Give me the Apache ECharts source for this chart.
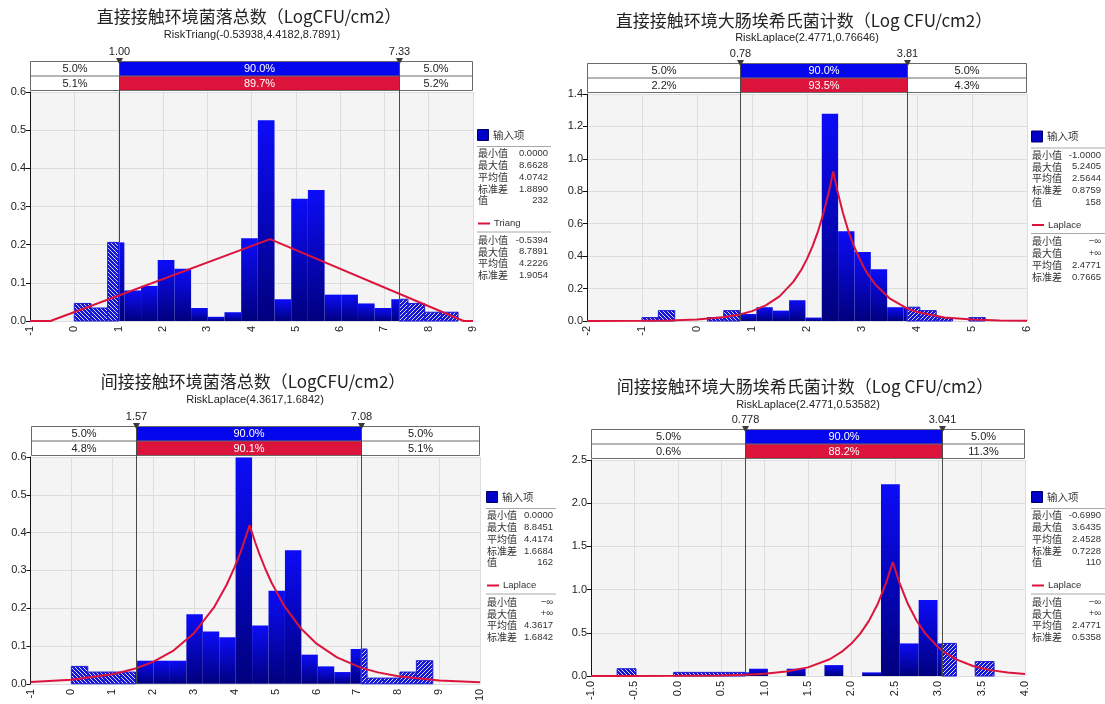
<!DOCTYPE html>
<html><head><meta charset="utf-8">
<script src="https://cdn.jsdelivr.net/npm/echarts@6.0.0/dist/echarts.min.js"></script>
<style>html,body{margin:0;padding:0;background:#fff}#main{width:1105px;height:704px}</style>
</head><body><div id="main"></div>
<script>
// ---------------- DATA ----------------
// Panel 1
const p1Title = '直接接触环境菌落总数（LogCFU/cm2）';
const p1Subtitle = 'RiskTriang(-0.53938,4.4182,8.7891)';
const p1Range = [0.0, 8.6628];
const p1Density = [0.046,0.034,0.206,0.080,0.092,0.160,0.137,0.034,0.011,0.023,0.217,0.526,0.057,0.320,0.343,0.069,0.069,0.046,0.034,0.057,0.046,0.023,0.023];
const p1Curve = [[-1,0],[-0.5394,0],[4.4182,0.2144],[8.7891,0],[9,0]];
const p1Markers = [1.00, 7.33];
const p1MarkerLabels = ['1.00', '7.33'];
const p1BandTop = ['5.0%', '90.0%', '5.0%'];
const p1BandBottom = ['5.1%', '89.7%', '5.2%'];
const p1XAxis = {min: -1, max: 9, interval: 1, decimals: 0};
const p1YAxis = {min: 0, max: 0.6, interval: 0.1, decimals: 1};
const p1InputStats = [['最小值','0.0000'],['最大值','8.6628'],['平均值','4.0742'],['标准差','1.8890'],['值','232']];
const p1FitName = 'Triang';
const p1FitStats = [['最小值','-0.5394'],['最大值','8.7891'],['平均值','4.2226'],['标准差','1.9054']];

// Panel 2
const p2Title = '直接接触环境大肠埃希氏菌计数（Log CFU/cm2）';
const p2Subtitle = 'RiskLaplace(2.4771,0.76646)';
const p2Range = [-1.0, 5.2405];
const p2Density = [0.021,0.064,0,0,0.021,0.064,0.043,0.085,0.064,0.128,0.021,1.278,0.554,0.426,0.319,0.085,0.085,0.064,0.021,0,0.021];
const p2Curve = [[-2,0.0002],[-1,0.0015],[-0.5,0.0038],[0,0.0096],[0.5,0.024],[0.78,0.040],[1.0,0.061],[1.25,0.096],[1.5,0.152],[1.75,0.241],[1.9,0.318],[2.0,0.383],[2.1,0.460],[2.2,0.553],[2.3,0.666],[2.4,0.800],[2.4771,0.923],[2.55,0.806],[2.65,0.671],[2.75,0.557],[2.85,0.464],[3.0,0.352],[3.1,0.292],[3.25,0.222],[3.5,0.140],[3.81,0.079],[4.0,0.056],[4.5,0.022],[5.0,0.0088],[5.5,0.0035],[6.0,0.0014]];
const p2Markers = [0.78, 3.81];
const p2MarkerLabels = ['0.78', '3.81'];
const p2BandTop = ['5.0%', '90.0%', '5.0%'];
const p2BandBottom = ['2.2%', '93.5%', '4.3%'];
const p2XAxis = {min: -2, max: 6, interval: 1, decimals: 0};
const p2YAxis = {min: 0, max: 1.4, interval: 0.2, decimals: 1};
const p2InputStats = [['最小值','-1.0000'],['最大值','5.2405'],['平均值','2.5644'],['标准差','0.8759'],['值','158']];
const p2FitName = 'Laplace';
const p2FitStats = [['最小值','−∞'],['最大值','+∞'],['平均值','2.4771'],['标准差','0.7665']];

// Panel 3
const p3Title = '间接接触环境菌落总数（LogCFU/cm2）';
const p3Subtitle = 'RiskLaplace(4.3617,1.6842)';
const p3Range = [0.0, 8.8451];
const p3Density = [0.046,0.031,0.031,0.031,0.061,0.061,0.061,0.184,0.138,0.123,0.599,0.154,0.246,0.353,0.077,0.046,0.031,0.092,0.015,0.015,0.031,0.061];
const p3Curve = [[-1,0.0047],[0,0.0108],[1,0.0249],[1.57,0.0403],[2,0.0578],[2.5,0.0879],[3,0.1338],[3.5,0.2036],[3.8,0.262],[4.0,0.310],[4.1,0.337],[4.2,0.3665],[4.3617,0.4198],[4.5,0.3738],[4.6,0.3437],[4.75,0.303],[4.9,0.2672],[5.2,0.2076],[5.6,0.1484],[6,0.1061],[6.5,0.0697],[7.08,0.0428],[7.5,0.0301],[8,0.0198],[9,0.0085],[10,0.0037]];
const p3Markers = [1.57, 7.08];
const p3MarkerLabels = ['1.57', '7.08'];
const p3BandTop = ['5.0%', '90.0%', '5.0%'];
const p3BandBottom = ['4.8%', '90.1%', '5.1%'];
const p3XAxis = {min: -1, max: 10, interval: 1, decimals: 0};
const p3YAxis = {min: 0, max: 0.6, interval: 0.1, decimals: 1};
const p3InputStats = [['最小值','0.0000'],['最大值','8.8451'],['平均值','4.4174'],['标准差','1.6684'],['值','162']];
const p3FitName = 'Laplace';
const p3FitStats = [['最小值','−∞'],['最大值','+∞'],['平均值','4.3617'],['标准差','1.6842']];

// Panel 4
const p4Title = '间接接触环境大肠埃希氏菌计数（Log CFU/cm2）';
const p4Subtitle = 'RiskLaplace(2.4771,0.53582)';
const p4Range = [-0.699, 3.6435];
const p4Density = [0.084,0,0,0.042,0.042,0.042,0.042,0.084,0,0.084,0,0.126,0,0.042,2.219,0.377,0.879,0.377,0,0.167];
const p4Curve = [[-1,0.0001],[-0.5,0.0005],[0,0.0019],[0.5,0.0071],[0.778,0.0149],[1.0,0.0267],[1.25,0.0517],[1.5,0.100],[1.75,0.194],[1.9,0.288],[2.0,0.375],[2.1,0.488],[2.2,0.635],[2.3,0.827],[2.4,1.077],[2.4771,1.320],[2.55,1.089],[2.65,0.836],[2.75,0.642],[2.85,0.493],[3.0,0.332],[3.041,0.298],[3.2,0.196],[3.4,0.116],[3.6,0.068],[3.8,0.040],[4.0,0.024]];
const p4Markers = [0.778, 3.041];
const p4MarkerLabels = ['0.778', '3.041'];
const p4BandTop = ['5.0%', '90.0%', '5.0%'];
const p4BandBottom = ['0.6%', '88.2%', '11.3%'];
const p4XAxis = {min: -1, max: 4, interval: 0.5, decimals: 1};
const p4YAxis = {min: 0, max: 2.5, interval: 0.5, decimals: 1};
const p4InputStats = [['最小值','-0.6990'],['最大值','3.6435'],['平均值','2.4528'],['标准差','0.7228'],['值','110']];
const p4FitName = 'Laplace';
const p4FitStats = [['最小值','−∞'],['最大值','+∞'],['平均值','2.4771'],['标准差','0.5358']];

// ---------------- LAYOUT / STYLE ----------------
const NUM_FONT = '"Liberation Sans", Arial, sans-serif';
const CJK_FONT = '"Noto Sans CJK SC", sans-serif';
const BLUE = '#0606ee', RED = '#dc143c';

const layouts = [
  {grid:{left:30, top:92, width:443, height:229}, titleX:249, titleY:17, subX:252, subY:35, legX:477, legValR:548, legLineR:551, legY:135},
  {grid:{left:587, top:94, width:440, height:227}, titleX:804, titleY:20.5, subX:807, subY:37.5, legX:1031, legValR:1101, legLineR:1105, legY:136.5},
  {grid:{left:30.5, top:457, width:449.5, height:228.5}, titleX:253, titleY:382, subX:255, subY:399.5, legX:486, legValR:553, legLineR:556, legY:497},
  {grid:{left:591, top:460, width:434, height:216}, titleX:805, titleY:387, subX:808, subY:404.5, legX:1031, legValR:1101, legLineR:1105, legY:497}
];

const panels = [
  {title:p1Title, sub:p1Subtitle, range:p1Range, dens:p1Density, curve:p1Curve, markers:p1Markers, mlabels:p1MarkerLabels, bandTop:p1BandTop, bandBot:p1BandBottom, xAxis:p1XAxis, yAxis:p1YAxis, inputStats:p1InputStats, fitName:p1FitName, fitStats:p1FitStats},
  {title:p2Title, sub:p2Subtitle, range:p2Range, dens:p2Density, curve:p2Curve, markers:p2Markers, mlabels:p2MarkerLabels, bandTop:p2BandTop, bandBot:p2BandBottom, xAxis:p2XAxis, yAxis:p2YAxis, inputStats:p2InputStats, fitName:p2FitName, fitStats:p2FitStats},
  {title:p3Title, sub:p3Subtitle, range:p3Range, dens:p3Density, curve:p3Curve, markers:p3Markers, mlabels:p3MarkerLabels, bandTop:p3BandTop, bandBot:p3BandBottom, xAxis:p3XAxis, yAxis:p3YAxis, inputStats:p3InputStats, fitName:p3FitName, fitStats:p3FitStats},
  {title:p4Title, sub:p4Subtitle, range:p4Range, dens:p4Density, curve:p4Curve, markers:p4Markers, mlabels:p4MarkerLabels, bandTop:p4BandTop, bandBot:p4BandBottom, xAxis:p4XAxis, yAxis:p4YAxis, inputStats:p4InputStats, fitName:p4FitName, fitStats:p4FitStats}
];

function makeHatch(slash) {
  const c = document.createElement('canvas'); c.width = 4; c.height = 4;
  const g = c.getContext('2d');
  g.fillStyle = '#1616d6'; g.fillRect(0, 0, 4, 4);
  g.fillStyle = '#d8d8ff';
  for (let i = 0; i < 4; i++) g.fillRect(slash ? 3 - i : i, i, 1, 1);
  return c;
}
const hatchL = makeHatch(false), hatchR = makeHatch(true);

function binData(range, dens) {
  const w = (range[1] - range[0]) / dens.length;
  return dens.map((d, k) => [range[0] + k * w, range[0] + (k + 1) * w, d]);
}

function histRender(markers) {
  return function (params, api) {
    const x0 = api.value(0), x1 = api.value(1), y = api.value(2);
    if (!(y > 0)) return null;
    const lo = markers[0], hi = markers[1];
    const parts = [[x0, Math.min(x1, lo), 'L'], [Math.max(x0, lo), Math.min(x1, hi), 'S'], [Math.max(x0, hi), x1, 'R']];
    const children = [];
    parts.forEach(p => {
      if (p[1] <= p[0]) return;
      const a = api.coord([p[0], y]), b = api.coord([p[1], 0]);
      const shape = {x: a[0], y: a[1], width: b[0] - a[0], height: b[1] - a[1]};
      let style;
      if (p[2] === 'S') {
        style = {fill: new echarts.graphic.LinearGradient(0, 0, 0, 1, [{offset: 0, color: '#0c0cf8'}, {offset: 1, color: '#00007e'}])};
      } else {
        style = {fill: {type: 'pattern', image: p[2] === 'L' ? hatchL : hatchR, repeat: 'repeat'}, stroke: '#1a1ad2', lineWidth: 1};
      }
      children.push({type: 'rect', shape, style});
    });
    return {type: 'group', children};
  };
}

function txt(text, x, y, align, font, fill) {
  return {type: 'text', style: {text, x, y, textAlign: align, align, textVerticalAlign: 'middle', verticalAlign: 'middle', font, fill: fill || '#222'}};
}

function bandRender(P) {
  return function (params, api) {
    const tl = api.coord([P.xAxis.min, P.yAxis.max]);
    const br = api.coord([P.xAxis.max, 0]);
    const L = Math.round(tl[0]) + 0.5, R = Math.round(br[0]) - 0.5, top = tl[1], bottom = br[1];
    const xl = Math.round(api.coord([P.markers[0], 0])[0]) + 0.5;
    const xh = Math.round(api.coord([P.markers[1], 0])[0]) + 0.5;
    const rowH = 14.5;
    const b2 = Math.round(top - 2.3) + 0.5, b1 = b2 - rowH, b0 = b1 - rowH;
    const f = '11px ' + NUM_FONT;
    const ch = [];
    ch.push({type: 'rect', shape: {x: L, y: b0, width: R - L, height: b2 - b0}, style: {fill: '#fff'}});
    ch.push({type: 'rect', shape: {x: xl, y: b0, width: xh - xl, height: rowH}, style: {fill: BLUE}});
    ch.push({type: 'rect', shape: {x: xl, y: b1, width: xh - xl, height: rowH}, style: {fill: RED}});
    ch.push({type: 'rect', shape: {x: L, y: b0, width: R - L, height: b2 - b0}, style: {fill: 'none', stroke: '#6a6a6a', lineWidth: 1}});
    ch.push({type: 'line', shape: {x1: L, y1: b1, x2: R, y2: b1}, style: {stroke: '#6a6a6a', lineWidth: 1}});
    ch.push({type: 'line', shape: {x1: xl, y1: b0, x2: xl, y2: bottom}, style: {stroke: '#4a4a4a', lineWidth: 1}});
    ch.push({type: 'line', shape: {x1: xh, y1: b0, x2: xh, y2: bottom}, style: {stroke: '#4a4a4a', lineWidth: 1}});
    const cx = [(L + xl) / 2, (xl + xh) / 2, (xh + R) / 2];
    for (let i = 0; i < 3; i++) {
      ch.push(txt(P.bandTop[i], cx[i], b0 + rowH / 2 + 0.5, 'center', f, i === 1 ? '#fff' : '#222'));
      ch.push(txt(P.bandBot[i], cx[i], b1 + rowH / 2 + 0.5, 'center', f, i === 1 ? '#fff' : '#222'));
    }
    [xl, xh].forEach((x, i) => {
      ch.push({type: 'polygon', shape: {points: [[x - 3.5, b0 - 3.5], [x + 3.5, b0 - 3.5], [x, b0 + 3]]}, style: {fill: '#3a3a3a'}});
      ch.push(txt(P.mlabels[i], x, b0 - 10, 'center', f, '#222'));
    });
    return {type: 'group', children: ch};
  };
}

function fmt(d) { return v => Number(v).toFixed(d); }

const grids = [], xAxes = [], yAxes = [], series = [], graphics = [];
panels.forEach((P, i) => {
  const Lay = layouts[i];
  grids.push(Object.assign({show: true, backgroundColor: '#f4f4f4', borderWidth: 0, containLabel: false}, Lay.grid));
  xAxes.push({gridIndex: i, type: 'value', min: P.xAxis.min, max: P.xAxis.max, interval: P.xAxis.interval,
    axisLine: {show: false, onZero: false}, axisTick: {show: false},
    splitLine: {show: true, lineStyle: {color: '#dddddd', width: 1}},
    axisLabel: {rotate: 90, margin: 5, fontSize: 11, fontFamily: NUM_FONT, color: '#222', formatter: fmt(P.xAxis.decimals), showMinLabel: true, showMaxLabel: true}});
  yAxes.push({gridIndex: i, type: 'value', min: P.yAxis.min, max: P.yAxis.max, interval: P.yAxis.interval,
    axisLine: {show: true, onZero: false, lineStyle: {color: '#111', width: 1}},
    axisTick: {show: true, length: 4, lineStyle: {color: '#111'}},
    splitLine: {show: true, lineStyle: {color: '#dddddd', width: 1}},
    axisLabel: {margin: 4, fontSize: 11, fontFamily: NUM_FONT, color: '#222', formatter: fmt(P.yAxis.decimals)}});
  series.push({type: 'custom', name: 'hist' + i, xAxisIndex: i, yAxisIndex: i, data: binData(P.range, P.dens),
    encode: {x: [0, 1], y: 2}, renderItem: histRender(P.markers), z: 2, silent: true});
  series.push({type: 'line', name: P.fitName + i, xAxisIndex: i, yAxisIndex: i, data: P.curve, showSymbol: false, smooth: false,
    lineStyle: {color: RED, width: 2}, z: 3, silent: true});
  series.push({type: 'custom', name: 'band' + i, xAxisIndex: i, yAxisIndex: i, data: [[P.markers[0], P.markers[1]]],
    encode: {x: [0, 1]}, renderItem: bandRender(P), z: 5, clip: false, silent: true});

  // titles
  graphics.push(txt(P.title, Lay.titleX, Lay.titleY, 'center', '17px ' + CJK_FONT, '#222'));
  graphics.push(txt(P.sub, Lay.subX, Lay.subY, 'center', '11px ' + NUM_FONT, '#222'));

  // legend
  const x = Lay.legX, y0 = Lay.legY, vr = Lay.legValR, lr = Lay.legLineR;
  const lf = '10px ' + CJK_FONT, nf = '9.5px ' + NUM_FONT;
  graphics.push({type: 'rect', shape: {x: x + 0.5, y: y0 - 5.5, width: 11, height: 11}, style: {fill: '#0000c8', stroke: '#00006a', lineWidth: 1}});
  graphics.push(txt('输入项', x + 16, y0, 'left', '10.5px ' + CJK_FONT, '#333'));
  graphics.push({type: 'line', shape: {x1: x, y1: y0 + 11.5, x2: lr, y2: y0 + 11.5}, style: {stroke: '#a8a8a8', lineWidth: 1}});
  P.inputStats.forEach((r, k) => {
    const yy = y0 + 18.5 + k * 11.8;
    graphics.push(txt(r[0], x + 1, yy, 'left', lf, '#333'));
    graphics.push(txt(r[1], vr, yy, 'right', nf, '#333'));
  });
  const yf = y0 + 88.5;
  graphics.push({type: 'line', shape: {x1: x + 1, y1: yf, x2: x + 13, y2: yf}, style: {stroke: RED, lineWidth: 2}});
  graphics.push(txt(P.fitName, x + 17, yf, 'left', nf, '#333'));
  graphics.push({type: 'line', shape: {x1: x, y1: yf + 8.5, x2: lr, y2: yf + 8.5}, style: {stroke: '#a8a8a8', lineWidth: 1}});
  P.fitStats.forEach((r, k) => {
    const yy = yf + 16.5 + k * 11.8;
    graphics.push(txt(r[0], x + 1, yy, 'left', lf, '#333'));
    graphics.push(txt(r[1], vr, yy, 'right', nf, '#333'));
  });
});

const chart = echarts.init(document.getElementById('main'), null, {renderer: 'canvas'});
chart.setOption({
  animation: false,
  backgroundColor: '#ffffff',
  grid: grids, xAxis: xAxes, yAxis: yAxes, series,
  graphic: {elements: graphics}
});
</script></body></html>
